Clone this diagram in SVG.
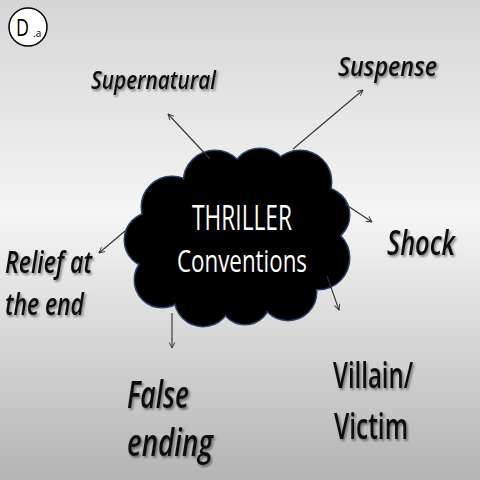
<svg xmlns="http://www.w3.org/2000/svg" width="480" height="480" viewBox="0 0 480 480">
<defs>
<linearGradient id="bg" x1="0" y1="0" x2="0" y2="1">
<stop offset="0" stop-color="#d6d6d6"/>
<stop offset="0.45" stop-color="#f5f5f5"/>
<stop offset="1" stop-color="#b4b4b4"/>
</linearGradient>
<filter id="sh" x="-10%" y="-20%" width="130%" height="150%">
<feDropShadow dx="1.5" dy="2" stdDeviation="1.2" flood-color="#000" flood-opacity="0.45"/>
</filter>
<marker id="ah" viewBox="0 0 10 10" refX="9" refY="5" markerWidth="7" markerHeight="7" orient="auto" markerUnits="userSpaceOnUse">
<path d="M1,1 L9,5 L1,9" fill="none" stroke="#333" stroke-width="1.3"/>
</marker>
<style>
.lbl{font-family:"Open Sans","Liberation Sans",sans-serif;font-style:italic;font-weight:600;fill:#111;filter:url(#sh)}
.up{font-family:"Open Sans","Liberation Sans",sans-serif;font-weight:600;fill:#111;filter:url(#sh)}
.conn line{stroke:#333;stroke-width:1.1;marker-end:url(#ah)}
.cw{font-family:"Open Sans","Liberation Sans",sans-serif;fill:#fff}
</style>
</defs>
<rect width="480" height="480" fill="url(#bg)"/>
<g id="badge">
<circle cx="28" cy="27" r="19" fill="#fff" stroke="#000" stroke-width="1.5"/>
<text x="16" y="36" font-family="Open Sans, Liberation Sans, sans-serif" font-size="24" textLength="13" lengthAdjust="spacingAndGlyphs">D</text>
<text x="33" y="37" font-family="Open Sans, Liberation Sans, sans-serif" font-size="10">.a</text>
</g>
<g id="cloud">
<g fill="none" stroke="#2a3f66" stroke-width="3">
<circle cx="172" cy="207" r="30"/><circle cx="215" cy="182" r="31"/><circle cx="260" cy="178" r="29"/><circle cx="300" cy="182" r="31"/><circle cx="322" cy="215" r="27"/><circle cx="318" cy="258" r="31"/><circle cx="288" cy="292" r="28"/><circle cx="245" cy="299" r="25"/><circle cx="203" cy="298" r="28"/><circle cx="162" cy="280" r="27"/><circle cx="152" cy="240" r="27"/>
</g>
<g fill="#000">
<circle cx="172" cy="207" r="30"/><circle cx="215" cy="182" r="31"/><circle cx="260" cy="178" r="29"/><circle cx="300" cy="182" r="31"/><circle cx="322" cy="215" r="27"/><circle cx="318" cy="258" r="31"/><circle cx="288" cy="292" r="28"/><circle cx="245" cy="299" r="25"/><circle cx="203" cy="298" r="28"/><circle cx="162" cy="280" r="27"/><circle cx="152" cy="240" r="27"/>
<ellipse cx="238" cy="240" rx="95" ry="65"/>
</g>
<text class="cw" x="192" y="230" font-size="34" textLength="100" lengthAdjust="spacingAndGlyphs">THRILLER</text>
<text class="cw" x="177" y="272" font-size="31" textLength="130" lengthAdjust="spacingAndGlyphs">Conventions</text>
</g>
<g class="conn">
<line x1="210" y1="159" x2="168" y2="114"/>
<line x1="293" y1="149" x2="363" y2="90"/>
<line x1="345" y1="204" x2="372" y2="222"/>
<line x1="327" y1="276" x2="339" y2="310"/>
<line x1="125" y1="231" x2="99" y2="253"/>
<line x1="172" y1="313" x2="172" y2="348"/>
</g>
<g id="supernatural"><text class="lbl" x="91" y="89" font-size="26" textLength="125" lengthAdjust="spacingAndGlyphs">Supernatural</text></g>
<g id="suspense"><text class="lbl" x="338" y="76" font-size="27" textLength="99" lengthAdjust="spacingAndGlyphs">Suspense</text></g>
<g id="shock"><text class="lbl" x="387" y="255" font-size="34" textLength="68" lengthAdjust="spacingAndGlyphs">Shock</text></g>
<g id="relief"><text class="lbl" font-size="31"><tspan x="5" y="273" textLength="87" lengthAdjust="spacingAndGlyphs">Relief at</tspan><tspan x="5" y="315" textLength="79" lengthAdjust="spacingAndGlyphs">the end</tspan></text></g>
<g id="false"><text class="lbl" font-size="38"><tspan x="127" y="408" textLength="62" lengthAdjust="spacingAndGlyphs">False</tspan><tspan x="127" y="456" textLength="86" lengthAdjust="spacingAndGlyphs">ending</tspan></text></g>
<g id="villain"><text class="up" font-size="36"><tspan x="333" y="388" textLength="80" lengthAdjust="spacingAndGlyphs">Villain/</tspan><tspan x="334" y="439" textLength="74" lengthAdjust="spacingAndGlyphs">Victim</tspan></text></g>
</svg>
